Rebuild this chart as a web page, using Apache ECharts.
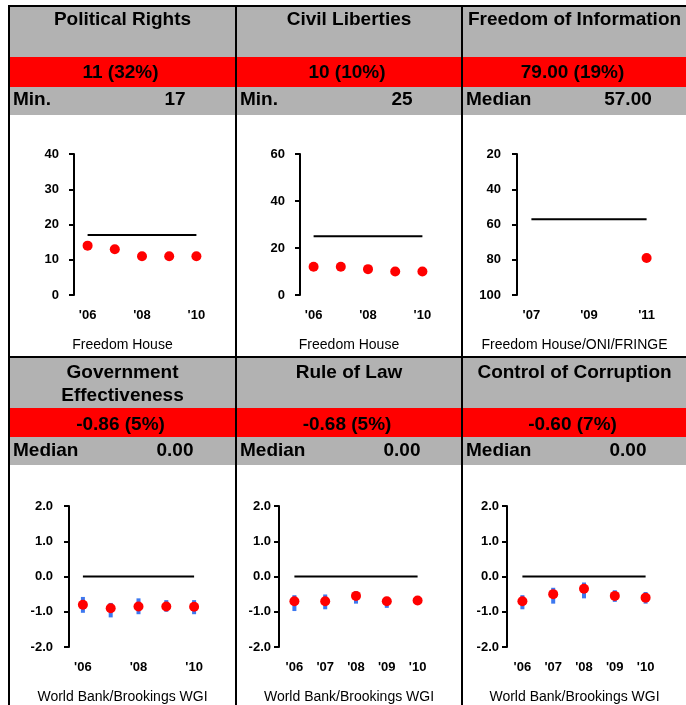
<!DOCTYPE html>
<html>
<head>
<meta charset="utf-8">
<script src="https://cdn.jsdelivr.net/npm/echarts@6/dist/echarts.min.js"></script>
<style>
  html, body { margin: 0; padding: 0; background: #fff; }
  #main { width: 686px; height: 705px; }
</style>
</head>
<body>
<div id="main"></div>
<script>
// categories
const cats06 = ["'06", "'07", "'08", "'09", "'10"]
const cats07 = ["'07", "'08", "'09", "'10", "'11"]

// Freedom House
const prScores = [14, 13, 11, 11, 11]
const prMin = [17, 17, 17, 17, 17]
const clScores = [12, 12, 11, 10, 10]
const clMin = [25, 25, 25, 25, 25]
// Freedom of Information
const foiScores = [null, null, null, null, 79]
const foiMedian = [57, 57, 57, 57, 57]
// WGI
const geScores = [-0.80, -0.90, -0.85, -0.85, -0.86]
const geLow = [-1.03, -1.16, -1.07, -1.00, -1.07]
const geHigh = [-0.58, -0.75, -0.62, -0.67, -0.67]
const rlScores = [-0.70, -0.70, -0.55, -0.70, -0.68]
const rlLow = [-0.98, -0.93, -0.77, -0.89, -0.80]
const rlHigh = [-0.53, -0.51, -0.42, -0.60, -0.58]
const ccScores = [-0.70, -0.50, -0.35, -0.55, -0.60]
const ccLow = [-0.93, -0.77, -0.62, -0.72, -0.77]
const ccHigh = [-0.53, -0.32, -0.17, -0.39, -0.44]
const wgiMedian = [0, 0, 0, 0, 0]

// panel texts
const panelTitles = ['Political Rights', 'Civil Liberties', 'Freedom of Information', 'Government\nEffectiveness', 'Rule of Law', 'Control of Corruption']
const panelScores = ['11 (32%)', '10 (10%)', '79.00 (19%)', '-0.86 (5%)', '-0.68 (5%)', '-0.60 (7%)']
const refNames = ['Min.', 'Min.', 'Median', 'Median', 'Median', 'Median']
const refValues = ['17', '25', '57.00', '0.00', '0.00', '0.00']
const sources = ['Freedom House', 'Freedom House', 'Freedom House/ONI/FRINGE', 'World Bank/Brookings WGI', 'World Bank/Brookings WGI', 'World Bank/Brookings WGI']

// y axis settings per panel
const yMins = [0, 0, 20, -2, -2, -2]
const yMaxs = [40, 60, 100, 2, 2, 2]
const yIntervals = [10, 20, 20, 1, 1, 1]

const panels = [
  { cats: cats06, scores: prScores, ref: prMin },
  { cats: cats06, scores: clScores, ref: clMin },
  { cats: cats07, scores: foiScores, ref: foiMedian, inverse: true },
  { cats: cats06, scores: geScores, ref: wgiMedian, low: geLow, high: geHigh },
  { cats: cats06, scores: rlScores, ref: wgiMedian, low: rlLow, high: rlHigh },
  { cats: cats06, scores: ccScores, ref: wgiMedian, low: ccLow, high: ccHigh }
]

const FONT = '"Liberation Sans", Arial, sans-serif'
const GRAY = '#b2b2b2'
const RED = '#ff0000'
const BLUE = '#3c78f0'

// layout
const cols = [[10, 235], [237, 461], [463, 686]]
const rows = [
  { title: 20, score: 72.3, ref: 99.7, source: 345 },
  { title: 373, score: 424.5, ref: 451, source: 697 }
]
const grids = [
  { left: 74, top: 154, width: 136, height: 141 },
  { left: 300, top: 154, width: 136, height: 141 },
  { left: 517, top: 154, width: 144, height: 141 },
  { left: 69, top: 506, width: 139, height: 141 },
  { left: 279, top: 506, width: 154, height: 141 },
  { left: 507, top: 506, width: 154, height: 141 }
]
const labelMargins = [15, 15, 16, 16, 8, 8]

function rect (x, y, w, h, fill) {
  return { type: 'rect', silent: true, shape: { x: x, y: y, width: w, height: h }, style: { fill: fill } }
}
function text (str, x, y, font, align) {
  return {
    type: 'text', silent: true, x: x, y: y,
    style: { text: str, fill: '#000', font: font, align: align, textAlign: align, verticalAlign: 'middle', textVerticalAlign: 'middle' }
  }
}

// background bands and borders
const graphics = [
  rect(8, 7, 678, 50, GRAY),
  rect(8, 57, 678, 30, RED),
  rect(8, 87, 678, 28, GRAY),
  rect(8, 358, 678, 50, GRAY),
  rect(8, 408, 678, 29, RED),
  rect(8, 437, 678, 28, GRAY),
  rect(8, 5, 678, 2, '#000'),
  rect(8, 356, 678, 2, '#000'),
  rect(8, 5, 2, 700, '#000'),
  rect(235, 5, 2, 700, '#000'),
  rect(461, 5, 2, 700, '#000')
]

panelTitles.forEach((t, i) => {
  const c = cols[i % 3]
  const r = rows[Math.floor(i / 3)]
  const mid = (c[0] + c[1]) / 2
  t.split('\n').forEach((line, k) => {
    graphics.push(text(line, mid, r.title + k * 22.7, 'bold 19px ' + FONT, 'center'))
  })
  graphics.push(text(panelScores[i], mid - 2, r.score, 'bold 19px ' + FONT, 'center'))
  graphics.push(text(refNames[i], c[0] + 3, r.ref, 'bold 19px ' + FONT, 'left'))
  graphics.push(text(refValues[i], c[0] + 165, r.ref, 'bold 19px ' + FONT, 'center'))
  graphics.push(text(sources[i], mid, r.source, '14px ' + FONT, 'center'))
})

const xAxes = []
const yAxes = []
const series = []

panels.forEach((p, i) => {
  xAxes.push({
    type: 'category',
    gridIndex: i,
    data: p.cats,
    boundaryGap: true,
    axisLine: { show: false },
    axisTick: { show: false },
    axisLabel: {
      interval: i >= 4 ? 0 : 1,
      margin: 14,
      color: '#000',
      fontSize: 13,
      fontWeight: 'bold',
      fontFamily: FONT
    }
  })
  yAxes.push({
    type: 'value',
    gridIndex: i,
    min: yMins[i],
    max: yMaxs[i],
    interval: yIntervals[i],
    inverse: !!p.inverse,
    splitLine: { show: false },
    axisLine: { show: true, lineStyle: { color: '#000', width: 2 } },
    axisTick: { show: true, length: 5, lineStyle: { color: '#000', width: 2 } },
    axisLabel: {
      margin: labelMargins[i],
      color: '#000',
      fontSize: 13,
      fontWeight: 'bold',
      fontFamily: FONT,
      formatter: i >= 3 ? v => v.toFixed(1) : v => String(v)
    }
  })
  series.push({
    type: 'line',
    xAxisIndex: i,
    yAxisIndex: i,
    data: p.ref,
    symbol: 'none',
    silent: true,
    z: 2,
    lineStyle: { color: '#000', width: 2 }
  })
  if (p.low) {
    series.push({
      type: 'custom',
      xAxisIndex: i,
      yAxisIndex: i,
      z: 3,
      silent: true,
      encode: { x: 0, y: [1, 2] },
      data: p.low.map((lo, k) => [k, lo, p.high[k]]),
      renderItem: function (params, api) {
        const a = api.coord([api.value(0), api.value(1)])
        const b = api.coord([api.value(0), api.value(2)])
        return {
          type: 'rect',
          shape: { x: a[0] - 2, y: b[1], width: 4, height: a[1] - b[1] },
          style: { fill: BLUE }
        }
      }
    })
  }
  series.push({
    type: 'scatter',
    xAxisIndex: i,
    yAxisIndex: i,
    data: p.scores,
    symbolSize: 10,
    z: 4,
    silent: true,
    itemStyle: { color: RED, opacity: 1 }
  })
})

const chart = echarts.init(document.getElementById('main'))
chart.setOption({
  animation: false,
  backgroundColor: '#fff',
  grid: grids.map(g => Object.assign({ outerBoundsMode: 'none' }, g)),
  xAxis: xAxes,
  yAxis: yAxes,
  series: series,
  graphic: { elements: graphics }
})
</script>
</body>
</html>
